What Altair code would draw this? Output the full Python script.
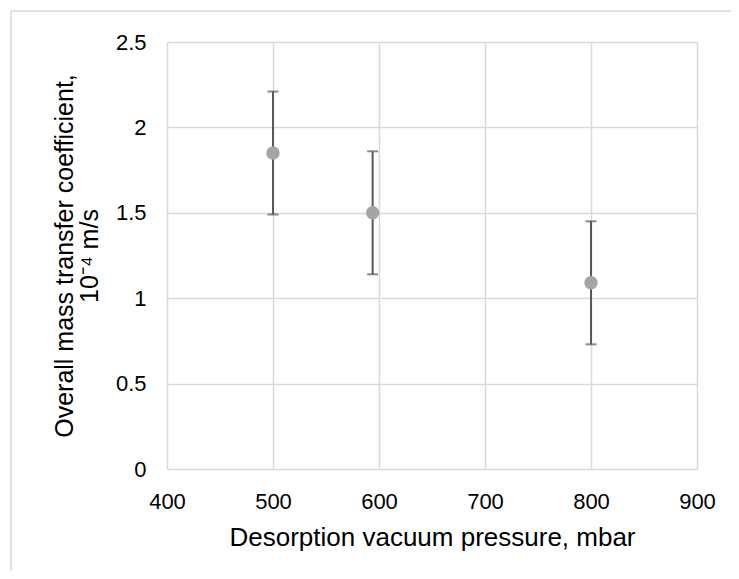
import altair as alt
import pandas as pd

pressure = [500, 594, 800]
coef = [1.85, 1.50, 1.09]
err_low = [1.49, 1.14, 0.73]
err_high = [2.21, 1.86, 1.45]

df = pd.DataFrame({"p": pressure, "k": coef, "lo": err_low, "hi": err_high})

FONT = "Liberation Sans"
base = alt.Chart(df)

common = dict(grid=True, gridColor="#d9d9d9", gridWidth=1.5, domain=False, ticks=False,
              labelFont=FONT, labelFontSize=22, labelColor="#000000", labelFlush=False,
              titleFont=FONT, titleFontWeight="normal", titleColor="#000000")

x_enc = alt.X("p:Q", scale=alt.Scale(domain=[400, 900], nice=False),
              axis=alt.Axis(values=[400, 500, 600, 700, 800, 900], format="d",
                            title="Desorption vacuum pressure, mbar", titleFontSize=26,
                            titlePadding=12, labelPadding=22, **common))
y_enc = alt.Y("k:Q", scale=alt.Scale(domain=[0, 2.5], nice=False),
              axis=alt.Axis(values=[0, 0.5, 1, 1.5, 2, 2.5], format="~g",
                            title=["Overall mass transfer coefficient,", "10⁻⁴ m/s"],
                            titleFontSize=25,
                            titlePadding=13, labelPadding=21, titleLineHeight=25, **common))

rules = base.mark_rule(color="#595959", strokeWidth=2).encode(
    x=x_enc, y=alt.Y("lo:Q"), y2="hi:Q")
tick_lo = base.mark_tick(color="#595959", thickness=2, size=11, orient="horizontal").encode(
    x="p:Q", y="lo:Q")
tick_hi = base.mark_tick(color="#595959", thickness=2, size=11, orient="horizontal").encode(
    x="p:Q", y="hi:Q")
points = base.mark_circle(color="#a5a5a5", size=180, opacity=1).encode(x="p:Q", y=y_enc)

border_left = alt.Chart(pd.DataFrame({"a": [0]})).mark_rule(color="#d9d9d9", strokeWidth=1.5).encode(
    x=alt.value(-156), y=alt.value(-31), y2=alt.value(560))
border_top = alt.Chart(pd.DataFrame({"a": [0]})).mark_rule(color="#d9d9d9", strokeWidth=1.5).encode(
    x=alt.value(-156), x2=alt.value(600), y=alt.value(-31))

chart = alt.layer(border_left, border_top, rules, tick_lo, tick_hi, points).properties(
    width=530, height=427,
    autosize=alt.AutoSizeParams(type="none"),
    padding={"left": 159, "top": 34, "right": 34, "bottom": 102},
).configure_view(stroke=None)

chart.save("out.html", embed_options={"renderer": "svg", "actions": False})
